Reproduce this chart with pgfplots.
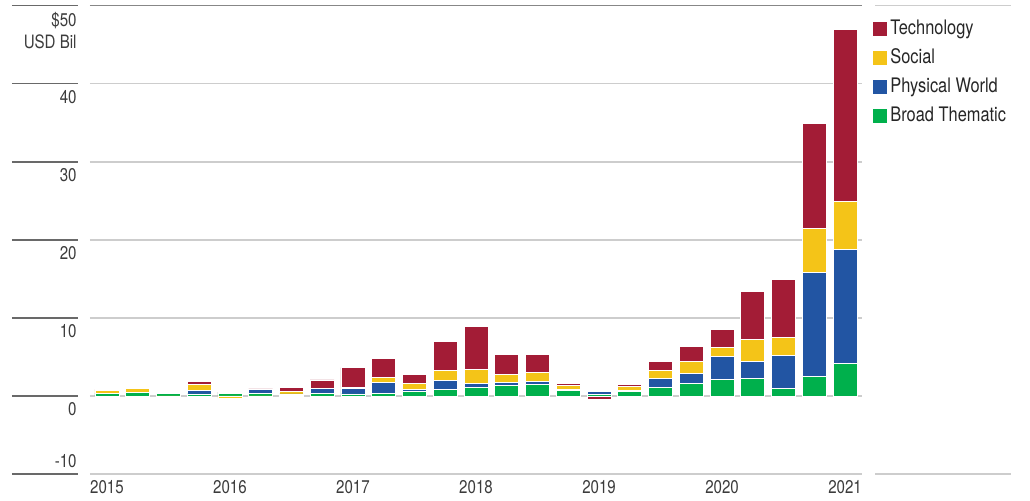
\documentclass[border=0pt]{standalone}
\usepackage{pgfplots}
\pgfplotsset{compat=1.18}
\usepackage{pgfplotstable}
\usepackage{fontspec}
\setmainfont{TeX Gyre Heros}[FakeStretch=0.82]

\definecolor{tech}{RGB}{163,28,54}
\definecolor{soc}{RGB}{244,196,24}
\definecolor{phys}{RGB}{34,85,163}
\definecolor{broad}{RGB}{0,176,76}
\definecolor{txt}{RGB}{60,60,60}
\definecolor{gridc}{RGB}{205,205,205}
\definecolor{darkl}{RGB}{105,105,105}

% quarterly flows, USD bil (2015 Q1 .. 2021 Q1)
\pgfplotstableread{
x green blue yellow red
0  0.30 0.05 0.40 0.05
1  0.45 0.05 0.45 0.15
2  0.28 0.15 0.00 0.00
3  0.25 0.40 0.80 0.45
4  0.30 0.05 0.00 0.15
5  0.30 0.50 0.00 0.10
6  0.05 0.20 0.30 0.50
7  0.30 0.65 0.05 1.05
8  0.25 0.68 0.13 2.56
9  0.30 1.40 0.68 2.47
10 0.58 0.26 0.72 1.24
11 0.87 1.12 1.32 3.72
12 1.13 0.47 1.80 5.47
13 1.30 0.38 1.12 2.52
14 1.51 0.35 1.15 2.35
15 0.75 0.05 0.50 0.30
16 0.22 0.38 0.00 0.00
17 0.55 0.13 0.50 0.27
18 1.13 1.12 1.06 1.15
19 1.60 1.32 1.50 1.92
20 2.15 2.95 1.12 2.31
21 2.19 2.23 2.82 6.19
22 1.00 4.19 2.35 7.33
23 2.45 13.33 5.73 13.42
24 4.12 14.67 6.10 22.01
}\flows

% negative parts
\pgfplotstableread{
x yneg rneg
2  -0.10 0.00
4  -0.30 0.00
5  -0.25 0.00
16  0.00 -0.42
}\negs

\pgfplotsset{
  base/.style={
    scale only axis, width=386pt, height=234.15pt,
    xmin=-0.55, xmax=24.55, ymin=-10, ymax=50,
    ybar stacked, bar width=0.78,
    every axis plot/.append style={draw=white, line width=0.4pt},
  },
}

\begin{document}
\begin{tikzpicture}
\begin{axis}[
  base, clip=false,
  axis line style={draw=none}, tick style={draw=none},
  ytick={-10,0,10,20,30,40,50},
  yticklabels={,0,10,20,30,40,{\$50\\USD Bil}},
  xtick={0,4,...,24},
  xticklabels={2015,2016,2017,2018,2019,2020,2021},
  ymajorgrids, grid style={gridc, line width=0.75pt},
  yticklabel style={anchor=north east, inner sep=0pt, xshift=-6.5pt, yshift=-3pt,
    align=right, text=txt, font=\fontsize{9.2}{11}\selectfont},
  xticklabel style={anchor=north, inner sep=0pt, yshift=-3pt,
    text=txt, font=\fontsize{9.2}{11}\selectfont},
  reverse legend,
  legend image code/.code={\fill[#1,draw=none] (0pt,-3.5pt) rectangle (7pt,3.5pt);},
  legend style={at={(1,1)}, anchor=north west, xshift=5.5pt, yshift=-4.2pt,
    draw=none, fill=none, inner sep=0pt, column sep=1.5pt,
    nodes={inner sep=0pt, minimum height=14.5pt, text=black!85,
      font=\fontsize{10}{12}\selectfont}},
  legend cell align=left,
]
\addplot[fill=broad] table[x=x,y=green]{\flows};
\addplot[fill=phys] table[x=x,y=blue]{\flows};
\addplot[fill=soc] table[x=x,y=yellow]{\flows};
\addplot[fill=tech] table[x=x,y=red]{\flows};
\legend{Broad Thematic,Physical World,Social,Technology}

\draw[darkl!80, line width=0.75pt] (axis cs:-0.55,50) -- (axis cs:24.55,50);
\pgfplotsinvokeforeach{-10,0,10,20,30,40,50}{
  \draw[darkl, line width=0.75pt] (axis cs:-0.55,#1) ++(-39pt,0pt) -- ++(33pt,0pt);
}
\node[anchor=south east, inner sep=0pt, text=txt, font=\fontsize{9.2}{11}\selectfont]
  at ([xshift=-6.5pt, yshift=3pt]axis cs:-0.55,-10) {-10};
\draw[gridc, line width=0.75pt] (axis cs:24.55,50) ++(6.5pt,0pt) -- ++(68pt,0pt);
\draw[gridc, line width=0.75pt] (axis cs:24.55,-10) ++(6.5pt,0pt) -- ++(68pt,0pt);
\coordinate (O) at (rel axis cs:0,0);
\end{axis}

\begin{axis}[base, hide axis]
\addplot[fill=soc] table[x=x,y=yneg]{\negs};
\addplot[fill=tech] table[x=x,y=rneg]{\negs};
\end{axis}

\pgfresetboundingbox
\path[use as bounding box] ([shift={(-45pt,-13.5pt)}]O) rectangle ([shift={(470pt,237pt)}]O);
\end{tikzpicture}
\end{document}
